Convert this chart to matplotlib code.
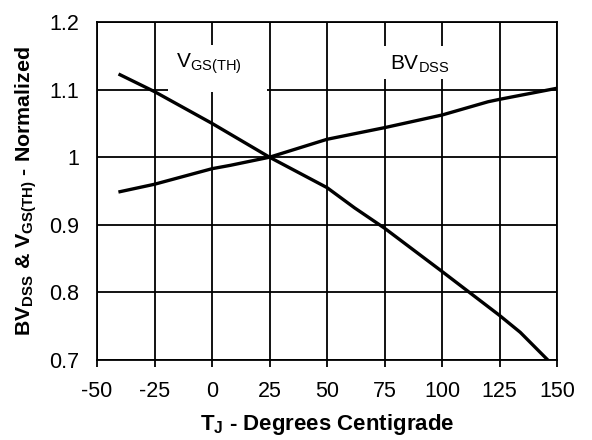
import matplotlib.pyplot as plt
from matplotlib.patches import Rectangle

plt.rcParams["font.family"] = ["Liberation Sans", "DejaVu Sans"]
plt.rcParams["mathtext.fontset"] = "custom"
plt.rcParams["mathtext.rm"] = "Liberation Sans"
plt.rcParams["mathtext.it"] = "Liberation Sans"
plt.rcParams["mathtext.bf"] = "Liberation Sans:bold"
plt.rcParams["axes.unicode_minus"] = False

# datos
temp_vgs = [-40, -25, 0, 25, 50, 62, 75, 100, 125, 134, 146]
vgs_th = [1.122, 1.097, 1.05, 1.0, 0.955, 0.925, 0.895, 0.831, 0.766, 0.741, 0.700]

temp_bv = [-40, -25, 0, 8, 25, 50, 75, 100, 120, 125, 150]
bv_dss = [0.949, 0.960, 0.983, 0.988, 1.0, 1.0265, 1.0437, 1.0624, 1.082, 1.0856, 1.102]

x_ticks = [-50, -25, 0, 25, 50, 75, 100, 125, 150]
y_ticks = [0.7, 0.8, 0.9, 1.0, 1.1, 1.2]
y_tick_labels = ["0.7", "0.8", "0.9", "1", "1.1", "1.2"]

fig = plt.figure(figsize=(5.92, 4.4), dpi=100)
ax = fig.add_axes([0.1639, 0.1818, 0.777, 0.7682])

ax.set_xlim(-50, 150)
ax.set_ylim(0.7, 1.2)
ax.set_xticks(x_ticks)
ax.set_yticks(y_ticks)
ax.set_yticklabels(y_tick_labels)
ax.grid(True, color="black", linewidth=1.3)
ax.set_axisbelow(True)
for s in ax.spines.values():
    s.set_color("black")
    s.set_linewidth(1.3)

ax.tick_params(axis="x", direction="out", length=5, width=1.3, pad=10, labelsize=15.5)
ax.tick_params(axis="y", length=0, pad=13, labelsize=15.5)

# cajas blancas detras de las etiquetas
ax.add_patch(Rectangle((-19, 1.096), 43, 0.07, facecolor="white", edgecolor="none", zorder=1.5))
ax.add_patch(Rectangle((74.3, 1.1157), 28.5, 0.0488, facecolor="white", edgecolor="none", zorder=1.5))

ax.plot(temp_vgs, vgs_th, color="black", linewidth=2.4, zorder=3)
ax.plot(temp_bv, bv_dss, color="black", linewidth=2.4, zorder=3)

ax.text(-15.5, 1.132, r"$\mathrm{V_{GS(TH)}}$", fontsize=15, va="baseline", zorder=4)
ax.text(77.5, 1.129, r"$\mathrm{BV_{DSS}}$", fontsize=15, va="baseline", zorder=4)

ax.set_xlabel(r"$\mathbf{T_J}$" + " - Degrees Centigrade", fontsize=16, fontweight="bold", labelpad=7)
ax.set_ylabel(r"$\mathbf{BV_{DSS}}$ & $\mathbf{V_{GS(TH)}}$ - Normalized", fontsize=15.4,
              fontweight="bold", labelpad=7)

fig.savefig("out.png", dpi=100)
